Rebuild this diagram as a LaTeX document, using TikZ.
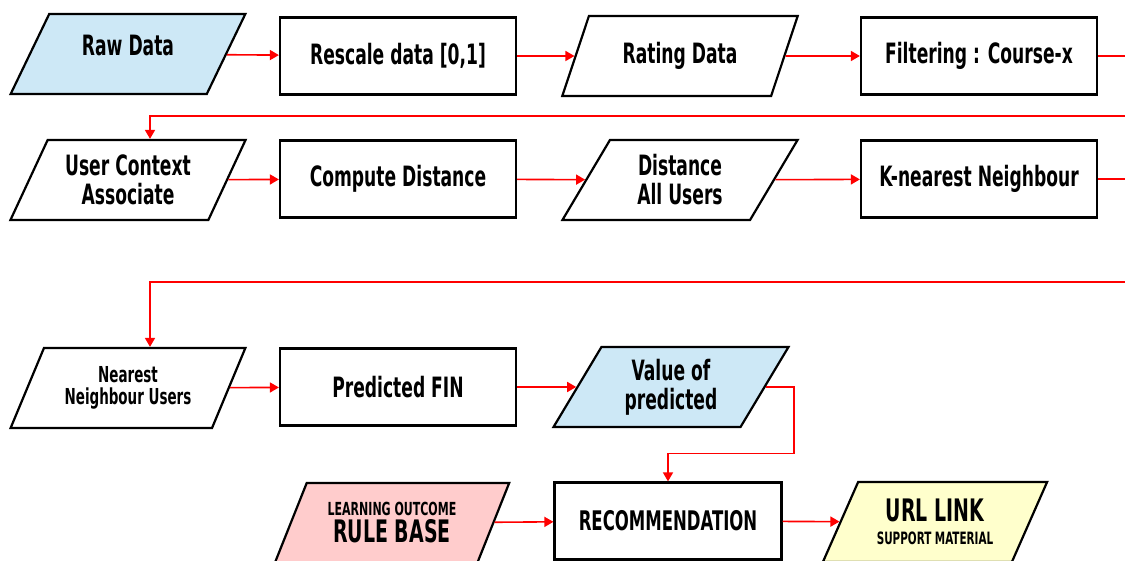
\documentclass[tikz,border=0pt]{standalone}
\usepackage{fontspec}
\usepackage{tikz}
\usetikzlibrary{arrows.meta,positioning,shapes.geometric,calc}
\newfontfamily\dinfont{DejaVu Sans Condensed}[FakeStretch=0.68]
\newcommand\mainlbl{\dinfont\bfseries\fontsize{14}{14.5}\selectfont}
\definecolor{fcred}{HTML}{FF0000}
\definecolor{fcblue}{HTML}{CDE8F6}
\definecolor{fcpink}{HTML}{FFCCCC}
\definecolor{fcyellow}{HTML}{FFFFCC}
\tikzset{
  proc/.style={draw=black,line width=1.1pt,fill=white,rectangle,align=center,
               minimum width=118pt,minimum height=38.5pt,inner sep=2pt,font=\mainlbl},
  io/.style={draw=black,line width=1.1pt,fill=white,trapezium,trapezium left angle=61,
             trapezium right angle=119,trapezium stretches=true,align=center,
             minimum width=118pt,minimum height=40pt,inner sep=1pt,font=\mainlbl},
  ar/.style={-{Triangle[length=4.5pt,width=5pt]},line width=0.8pt,fcred},
  ln/.style={line width=0.8pt,fcred},
}
\begin{document}
\begin{tikzpicture}[x=0.5pt,y=-0.5pt]
  \useasboundingbox (0,0) rectangle (1125,561);
  \clip (0,0) rectangle (1125,561);
  % first row
  \node[io,fill=fcblue] (raw) at (128,54) {\raisebox{9pt}{Raw Data}};
  \node[proc] (resc) at (398,56) {Rescale data [0,1]};
  \node[io] (rate) at (680,56) {Rating Data};
  \node[proc] (filt) at (979,56) {Filtering : Course-x};
  % second row
  \node[io] (ctx) at (128,180) {User Context\\Associate};
  \node[proc] (dist) at (398,179) {Compute Distance};
  \node[io] (all) at (680,180) {Distance\\All Users};
  \node[proc] (knn) at (979,179) {K-nearest Neighbour};
  % third row
  \node[io,font=\dinfont\bfseries\fontsize{11}{11}\selectfont] (near) at (128,388) {Nearest\\Neighbour Users};
  \node[proc] (pfin) at (398,387) {Predicted FIN};
  \node[io,fill=fcblue] (val) at (671,387) {Value of\\predicted};
  % last row
  \node[io,fill=fcpink] (rule) at (392,523)
    {{\fontsize{9}{14}\selectfont LEARNING OUTCOME}\\[-1pt]{\fontsize{15.5}{14}\selectfont RULE BASE}};
  \node[proc,minimum width=113.5pt,font=\dinfont\bfseries\fontsize{13.5}{14}\selectfont] (rec) at (668,521) {RECOMMENDATION};
  \node[io,fill=fcyellow,minimum width=113pt] (url) at (935,522)
    {{\fontsize{15.5}{14}\selectfont URL LINK}\\[-3pt]{\fontsize{8.5}{10}\selectfont SUPPORT MATERIAL}};
  \foreach \a/\b in {raw/resc,resc/rate,rate/filt,ctx/dist,dist/all,all/knn,near/pfin,pfin/val,rule/rec,rec/url}
    {\draw[ar] (\a) -- (\b);}
  % row returns
  \coordinate (e1) at (1135,56);
  \coordinate (r1) at (1135,116);
  \coordinate (k1) at (150,116);
  \draw[ln] (filt) -- (e1);
  \draw[ar] (r1) -- (k1) -- (k1 |- ctx.north);
  \coordinate (e2) at (1135,179);
  \coordinate (r2) at (1135,282);
  \coordinate (k2) at (150,282);
  \draw[ln] (knn) -- (e2);
  \draw[ar] (r2) -- (k2) -- (k2 |- near.north);
  \draw[ar] (val.east) -- ++(28,0) |- ($(rec.north)+(0,-28)$) -- (rec.north);
\end{tikzpicture}
\end{document}
